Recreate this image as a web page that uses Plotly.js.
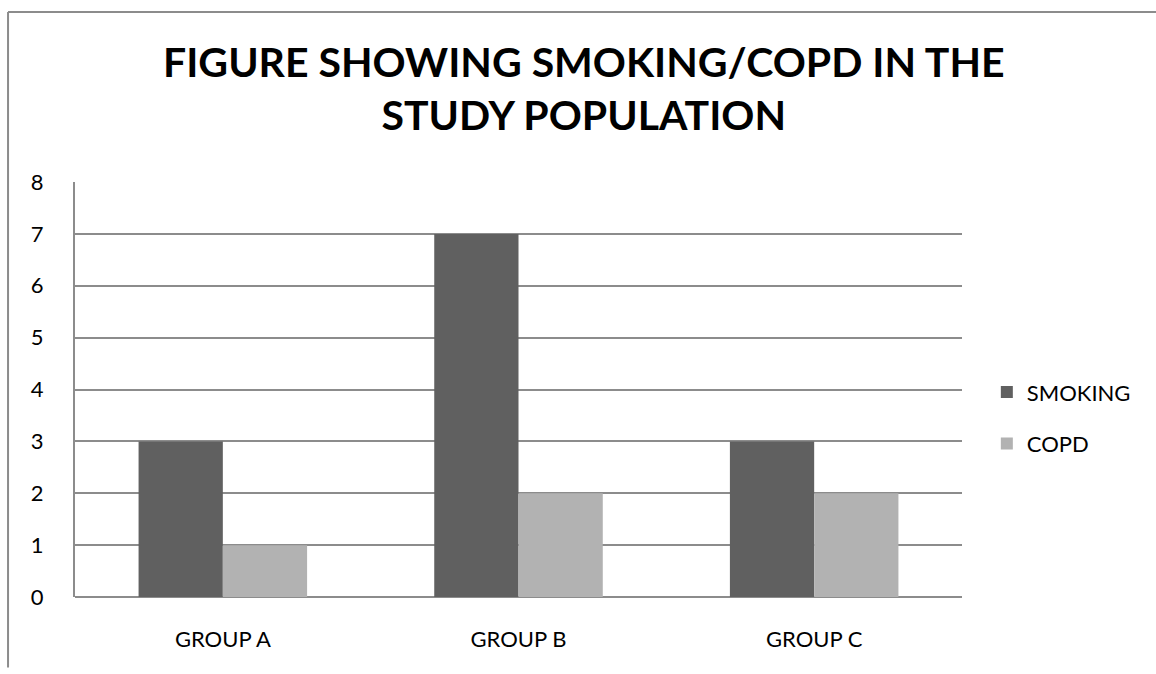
<!DOCTYPE html>
<html>
<head>
<meta charset="utf-8">
<script src="https://cdn.plot.ly/plotly-3.0.1.min.js"></script>
<style>
  html, body { margin: 0; padding: 0; background: #fff; }
  #chart { width: 1156px; height: 674px; }
</style>
</head>
<body>
<div id="chart"></div>
<script>
// Groups and counts per series
const groups = ["GROUP A", "GROUP B", "GROUP C"];
const smoking = [3, 7, 3];
const copd = [1, 2, 2];
const yTicks = [0, 1, 2, 3, 4, 5, 6, 7, 8];

const font = "Lato, 'Open Sans', sans-serif";
const grid = "#8c8c8c";

const traces = [
  { type: "bar", name: "SMOKING", x: groups, y: smoking, legendgroup: "s",
    marker: { color: "#606060" }, hoverinfo: "x+y" },
  { type: "bar", name: "COPD", x: groups, y: copd, legendgroup: "c",
    marker: { color: "#b2b2b2" }, hoverinfo: "x+y" }
];

// Outer chart frame: top and left edges only
const frame = { color: "#8c8c8c", width: 2 };
const shapes = [
  { type: "line", xref: "paper", yref: "paper",
    x0: -0.0755, x1: 1.22, y0: 1.4096, y1: 1.4096, line: frame },
  { type: "line", xref: "paper", yref: "paper",
    x0: -0.0755, x1: -0.0755, y0: 1.4096, y1: -0.17, line: frame }
];

const layout = {
  width: 1156, height: 674,
  margin: { l: 75, r: 194, t: 182, b: 77 },
  paper_bgcolor: "#fff", plot_bgcolor: "#fff",
  font: { family: font, color: "#000", size: 22 },
  title: {
    text: "<b>FIGURE SHOWING SMOKING/COPD IN THE<br>STUDY POPULATION</b>",
    font: { family: font, size: 41, color: "#000" },
    x: 0.505, xanchor: "center", xref: "container",
    y: 0.886, yanchor: "top", yref: "container"
  },
  barmode: "group",
  bargap: 0.43,
  bargroupgap: 0,
  xaxis: {
    type: "category",
    showgrid: false, zeroline: false,
    showline: false, ticks: "",
    ticklabelstandoff: 27,
    tickfont: { family: font, size: 22 },
    fixedrange: true
  },
  yaxis: {
    range: [0, 8],
    tickvals: yTicks,
    showgrid: true, gridcolor: grid, gridwidth: 2,
    zeroline: true, zerolinecolor: grid, zerolinewidth: 2,
    showline: true, linecolor: grid, linewidth: 2,
    ticks: "", ticklabelstandoff: 25,
    tickfont: { family: font, size: 22 },
    fixedrange: true
  },
  legend: {
    x: 1.028, xanchor: "left",
    y: 0.431, yanchor: "middle",
    font: { family: font, size: 22 },
    tracegroupgap: 20,
    itemwidth: 30
  },
  shapes: shapes,
  showlegend: true
};

Plotly.newPlot("chart", traces, layout, { displayModeBar: false, staticPlot: true });
</script>
</body>
</html>
